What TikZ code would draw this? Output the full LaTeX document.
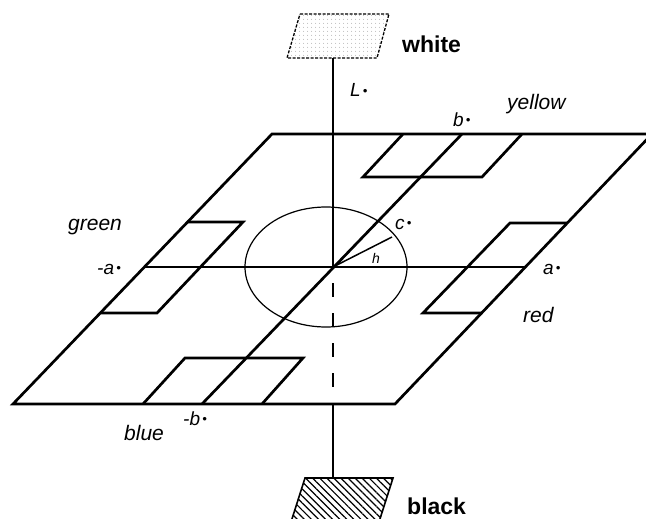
\documentclass[tikz,border=0pt]{standalone}
\usepackage{fontspec}
\setmainfont{Liberation Sans}
\usetikzlibrary{patterns.meta}
\newcommand{\starmark}{{\fontsize{13}{13}\selectfont\,\raisebox{0.12em}{•}}}

\begin{document}
\begin{tikzpicture}[x=1pt,y=-1pt,
  planeline/.style={line width=2.7pt},
  thinline/.style={line width=1.2pt},
  colname/.style={font=\fontsize{21}{24}\selectfont\itshape, anchor=base west, inner sep=0pt},
  axname/.style={font=\fontsize{19}{22}\selectfont\itshape, anchor=base west, inner sep=0pt},
  refname/.style={font=\fontsize{23}{26}\selectfont\bfseries, anchor=base west, inner sep=0pt}]
  \useasboundingbox (0,0) rectangle (646,519);
  % plane corners and axis ends
  \coordinate (bl) at (13,404);
  \coordinate (br) at (395,404);
  \coordinate (tr) at (652,134);
  \coordinate (tl) at (272,134);
  \coordinate (o) at (333,267);
  \coordinate (ma) at (144,267);
  \coordinate (pa) at (525,267);
  \coordinate (pb) at (462,134);
  \coordinate (mb) at (202,404);
  \coordinate (lb) at (333,404);
  \coordinate (ht) at (392,237);
  \coordinate (wb) at (333,58);
  \coordinate (kt) at (333,478);
  % white and black references
  \draw[line width=1.3pt, dash pattern=on 3pt off 1.5pt,
    pattern={Dots[distance=4pt,radius=0.6pt]}, pattern color=gray!70]
    (300,14) -- (389,14) -- (377,58) -- (287,58) -- cycle;
  \draw[line width=1.6pt, pattern={Lines[angle=-45,distance=5pt,line width=1.2pt]}]
    (305,478) -- (393,478) -- (379,522) -- (291,522) -- cycle;
  % lightness axis
  \draw[planeline] (wb) -- (o);
  \draw[planeline, dash pattern=on 14pt off 16pt, dash phase=14pt] (o) -- (lb);
  \draw[planeline] (lb) -- (kt);
  % a and b axes, the plane
  \draw[planeline] (ma) -- (pa);
  \draw[planeline] (mb) -- (pb);
  \draw[planeline] (bl) -- (br) -- (tr) -- (tl) -- cycle;
  % chroma circle and hue angle
  \draw[thinline] (326,267) ellipse [x radius=81, y radius=60];
  \draw[line width=1.5pt] (o) -- (ht);
  % colour regions
  \draw[planeline] (403,134) -- (363,177) -- (482,177) -- (522,134); % yellow
  \draw[planeline] (567,223) -- (510,223) -- (423,313) -- (482,313); % red
  \draw[planeline] (187,222) -- (243,222) -- (157,313) -- (100,313); % green
  \draw[planeline] (143,404) -- (185,358) -- (303,358) -- (262,404); % blue
  % labels
  \node[refname] (white) at (402,53) {white};
  \node[refname] (black) at (407,514) {black};
  \node[colname] (yellow) at (507,110) {yellow};
  \node[colname] (green) at (68,230) {green};
  \node[colname] (red) at (523,322) {red};
  \node[colname] (blue) at (124,440) {blue};
  \node[axname] (lstar) at (350,97) {L\starmark};
  \node[axname] (bstar) at (453,126) {b\starmark};
  \node[axname] (cstar) at (395,229) {c\starmark};
  \node[axname] (mastar) at (97,274) {-a\starmark};
  \node[axname] (astar) at (543,274) {a\starmark};
  \node[axname] (mbstar) at (183,425) {-b\starmark};
  \node[font=\fontsize{14}{16}\selectfont\itshape, anchor=base west, inner sep=0pt] (hangle) at (372,263) {h};
\end{tikzpicture}
\end{document}
